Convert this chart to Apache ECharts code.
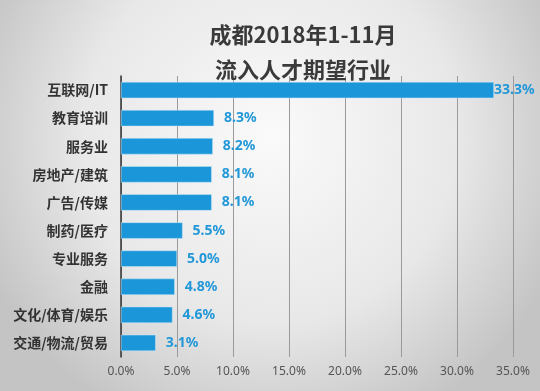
<!DOCTYPE html>
<html><head><meta charset="utf-8">
<script src="https://cdn.jsdelivr.net/npm/echarts@6/dist/echarts.min.js"></script>
<style>html,body{margin:0;padding:0;}#c{width:540px;height:391px;}</style>
</head><body><div id="c"></div>
<script>
const titleLines = ['成都2018年1-11月', '流入人才期望行业'];
const categories = ['互联网/IT','教育培训','服务业','房地产/建筑','广告/传媒','制药/医疗','专业服务','金融','文化/体育/娱乐','交通/物流/贸易'];
const values = [33.3, 8.3, 8.2, 8.1, 8.1, 5.5, 5.0, 4.8, 4.6, 3.1];
const axisMax = 35, axisStep = 5;

const chart = echarts.init(document.getElementById('c'), null, {renderer:'canvas'});
const blue = '#1b96d9';
chart.setOption({
  animation:false,
  backgroundColor:{type:'radial',x:0.5,y:0.35,r:0.8,colorStops:[{offset:0,color:'#fafafa'},{offset:0.6,color:'#e8e8e8'},{offset:1,color:'#c4c4c4'}]},
  title:{
    text: titleLines.join('\n'),
    left: 298, top: 12, textAlign:'center',
    textStyle:{fontFamily:'Noto Sans CJK SC', fontSize:22, fontWeight:'bold', color:'#3a3a3a', lineHeight:35}
  },
  grid:{left:121, right:27, top:76, bottom:34, containLabel:false},
  xAxis:{
    type:'value', min:0, max:axisMax, interval:axisStep,
    axisLine:{show:false}, axisTick:{show:false},
    splitLine:{lineStyle:{color:'#9a9a9a', width:1}},
    axisLabel:{formatter:v=>v.toFixed(1)+'%', color:'#555', fontSize:12, fontFamily:'Noto Sans', margin:9}
  },
  yAxis:{
    type:'category', data:categories, inverse:true,
    axisLine:{show:true, lineStyle:{color:'#333', width:1.5}}, axisTick:{show:false},
    axisLabel:{color:'#333', fontSize:14, fontWeight:'bold', fontFamily:'Noto Sans CJK SC', margin:13}
  },
  series:[{
    type:'bar', barWidth:'58%',
    data: values.map((v,i)=> i===0 ? {value:v, label:{offset:[-10,0]}} : v),
    itemStyle:{color:blue, borderColor:'#c8e6f6', borderWidth:0.5},
    label:{show:true, position:'right', distance:10, formatter:p=>p.value.toFixed(1)+'%', color:'#2398d8', fontSize:14, fontWeight:'bold', fontFamily:'Noto Sans'}
  }]
});
</script></body></html>
